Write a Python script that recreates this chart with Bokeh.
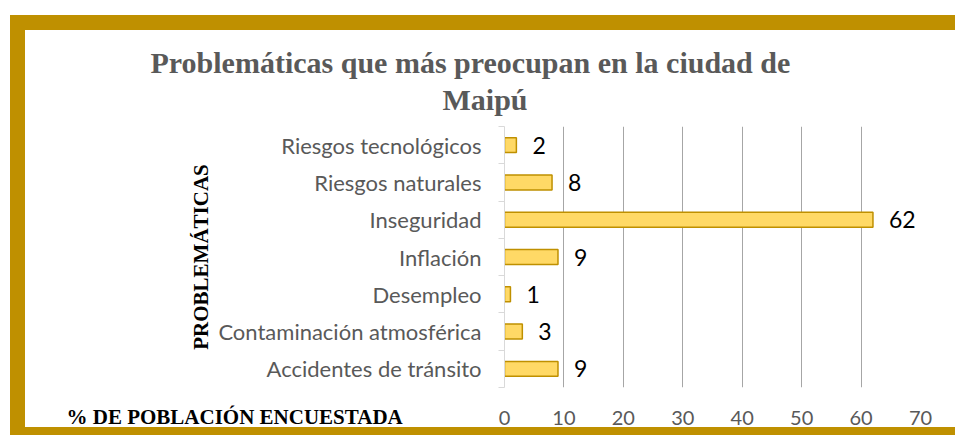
from bokeh.plotting import figure
from bokeh.models import Range1d, FixedTicker, Label, ColumnDataSource, Title
from bokeh.core.properties import value
from bokeh.embed import file_html
from bokeh.resources import INLINE

# ---- data ----
categories = ["Accidentes de tránsito", "Contaminación atmosférica", "Desempleo",
              "Inflación", "Inseguridad", "Riesgos naturales", "Riesgos tecnológicos"]
percentages = [9, 3, 1, 9, 62, 8, 2]
x_ticks = [0, 10, 20, 30, 40, 50, 60, 70]
title_line1 = "Problemáticas que más preocupan en la ciudad de"
title_line2 = "Maipú"
y_title = "PROBLEMÁTICAS"
x_title = "% DE POBLACIÓN ENCUESTADA"

GOLD = "#BF9000"
positions = [i + 0.5 for i in range(len(categories))]
boundaries = list(range(len(categories) + 1))

src = ColumnDataSource(dict(cat=categories, y=positions, v=percentages,
                            lbl=[str(v) for v in percentages]))

p = figure(width=945, height=435, x_range=Range1d(x_ticks[0], x_ticks[-1]),
           y_range=Range1d(0, len(categories)),
           output_backend="svg", toolbar_location=None,
           min_border_left=479, min_border_right=50, min_border_top=96, min_border_bottom=78,
           title=title_line1)
g = f"linear-gradient({GOLD}, {GOLD})"
p.styles = {"position": "relative", "left": "10px", "top": "0px",
            "border-left": "15px solid transparent", "border-top": "30px solid transparent",
            "border-bottom": "8px solid transparent",
            "background-image": f"{g}, {g}, {g}",
            "background-position": "0px 15px, 0px 15px, 0px 100%",
            "background-size": "100% 15px, 15px 100%, 100% 8px",
            "background-repeat": "no-repeat",
            "background-origin": "border-box",
            "background-clip": "border-box",
            "background-color": "white"}
p.outline_line_color = None
p.background_fill_color = "white"
p.border_fill_color = "white"

def style_title(t):
    t.text_font = "Liberation Serif"
    t.text_font_style = "bold"
    t.text_font_size = "30px"
    t.text_color = "#595959"
    t.align = "left"

style_title(p.title)
p.title.offset = -354
p.title.standoff = -18
t2 = Title(text=title_line2)
style_title(t2)
t2.offset = -62
t2.standoff = 22
p.add_layout(t2, "above")

p.hbar(y="y", right="v", left=0, height=0.4, source=src,
       fill_color="#FFD966", line_color=GOLD, line_width=1.5)
p.text(x="v", y="y", text="lbl", source=src, x_offset=16, text_baseline="middle",
       text_align="left", text_font=value("Lato"), text_font_size="23px", text_color="black")

# x axis
xa = p.xaxis[0]
xa.ticker = FixedTicker(ticks=x_ticks)
xa.axis_line_color = None
xa.major_tick_line_color = None
xa.minor_tick_line_color = None
xa.major_tick_out = 0
xa.major_label_text_font = "Lato"
xa.major_label_text_font_size = "20px"
xa.major_label_text_color = "#595959"
xa.major_label_standoff = 23

# y axis
ya = p.yaxis[0]
ya.ticker = FixedTicker(ticks=positions, minor_ticks=boundaries)
ya.major_label_overrides = {pos: c for pos, c in zip(positions, categories)}
ya.axis_line_color = "#D9D9D9"
ya.axis_line_width = 1
ya.major_tick_line_color = None
ya.major_tick_out = 0
ya.major_tick_in = 0
ya.minor_tick_line_color = "#D9D9D9"
ya.minor_tick_out = 6
ya.minor_tick_in = 0
ya.major_label_text_font = "Lato"
ya.major_label_text_font_size = "22px"
ya.major_label_text_color = "#595959"
ya.major_label_standoff = 17
ya.axis_label = y_title
ya.axis_label_text_font = "Liberation Serif"
ya.axis_label_text_font_style = "bold"
ya.axis_label_text_font_size = "21px"
ya.axis_label_text_color = "black"
ya.axis_label_standoff = 2

p.xgrid.ticker = FixedTicker(ticks=x_ticks[1:])
p.xgrid.grid_line_color = "#A6A6A6"
p.xgrid.grid_line_width = 1
p.ygrid.grid_line_color = None

# x-axis title, in the lower side panel (not clipped), left of the axis labels
p.add_layout(Label(x=-73.7, y=-0.78, x_units="data", y_units="data", text=x_title,
                   text_font="Liberation Serif", text_font_style="bold",
                   text_font_size="21px", text_color="black", text_baseline="alphabetic"),
             "below")

open("out.html", "w").write(file_html(p, INLINE))
